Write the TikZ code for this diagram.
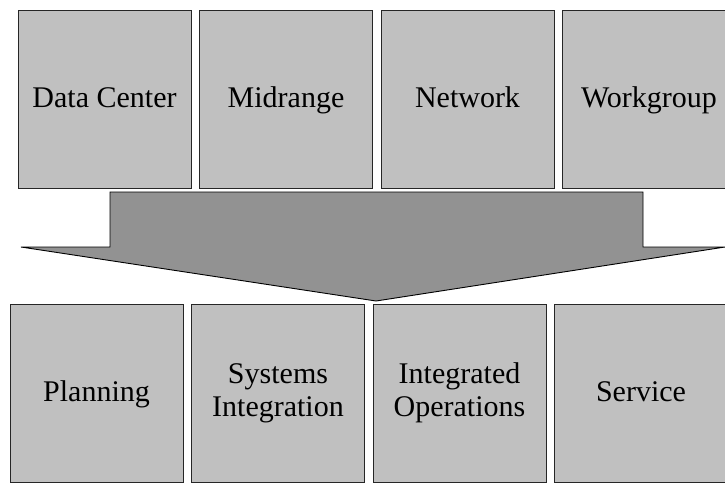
\documentclass[tikz,border=0pt]{standalone}
\usepackage{fontspec}
\setmainfont{Liberation Serif}
\usetikzlibrary{positioning}

\definecolor{boxgray}{RGB}{192,192,192}
\definecolor{arrowgray}{RGB}{146,146,146}
\tikzset{
  unit/.style={draw=black!85, fill=boxgray, line width=0.9pt,
    minimum width=173pt, minimum height=178pt, inner sep=0pt, outer sep=0pt,
    align=center, font=\fontsize{30}{33}\selectfont},
  oneline/.style={unit, text height=22pt, text depth=6pt},
}

\begin{document}
\begin{tikzpicture}[x=1pt,y=-1pt]
\useasboundingbox (0,0) rectangle (725,483);
\clip (0,0) rectangle (725,483);
% platforms
\node[oneline, anchor=north west](dc) at (18,10) {Data Center};
\node[oneline, right=8.5pt of dc](mid) {Midrange};
\node[oneline, right=8.5pt of mid](net) {Network};
\node[oneline, right=8.5pt of net](wg) {Workgroup};
% big arrow
\draw[fill=arrowgray, draw=black, line width=0.9pt]
  (110,192) -- (643,192) -- (643,247) -- (725,247) -- (376,301)
  -- (21,247) -- (110,247) -- cycle;
% services
\node[oneline, anchor=north west](plan) at (10,304) {Planning};
\node[unit, right=8.5pt of plan](si) {Systems\\Integration};
\node[unit, right=8.5pt of si](io) {Integrated\\Operations};
\node[oneline, right=8.5pt of io](svc) {Service};
\end{tikzpicture}
\end{document}
